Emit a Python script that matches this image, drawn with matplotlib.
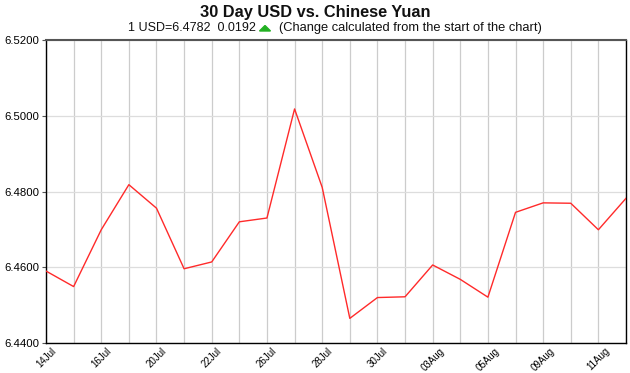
import matplotlib
matplotlib.use("Agg")
import matplotlib.pyplot as plt
from matplotlib.patches import Polygon

plt.rcParams.update({"font.family": "Liberation Sans"})

dates = ["14Jul", "15Jul", "16Jul", "19Jul", "20Jul", "21Jul", "22Jul", "23Jul",
         "26Jul", "27Jul", "28Jul", "29Jul", "30Jul", "02Aug", "03Aug", "04Aug",
         "05Aug", "06Aug", "09Aug", "10Aug", "11Aug", "12Aug"]
rates = [6.4590, 6.4549, 6.4699, 6.4818, 6.4756, 6.4596, 6.4614, 6.4720,
         6.4730, 6.5018, 6.4811, 6.4465, 6.4520, 6.4522, 6.4606, 6.4568,
         6.4521, 6.4745, 6.4770, 6.4769, 6.4699, 6.4782]
yticks = [6.44, 6.46, 6.48, 6.50, 6.52]

W, H = 630, 373
fig = plt.figure(figsize=(6.3, 3.73), dpi=100)
fig.patch.set_facecolor("white")
ax = fig.add_axes([46 / W, 1 - 343 / H, 580 / W, 303 / H])

x = list(range(len(dates)))
ax.plot(x, rates, color="#ff2a2a", lw=1.0, zorder=3)

ax.set_xlim(0, len(dates) - 1)
ax.set_ylim(6.44, 6.52)
ax.set_yticks(yticks)
ax.set_yticklabels([f"{v:.4f}" for v in yticks], fontsize=8.2)
# every day gets a gridline, every other day a label
ax.set_xticks(x)
ax.set_xticklabels([d if i % 2 == 0 else "" for i, d in enumerate(dates)],
                   fontsize=7, rotation=45, ha="center", va="top")
ax.grid(True, axis="x", color="#cccccc", lw=0.9)
ax.grid(True, axis="y", color="#dddddd", lw=0.9)
ax.tick_params(axis="y", length=3, width=0.8, color="#555555", pad=2)
ax.tick_params(axis="x", length=0, pad=2)
for s in ("left", "bottom", "right"):
    ax.spines[s].set_color("black")
    ax.spines[s].set_linewidth(1.0)
ax.spines["top"].set_color("#555555")
ax.spines["top"].set_linewidth(1.5)

fig.text(0.5, 1 - 13 / H, "30 Day USD vs. Chinese Yuan", ha="center", va="center",
         fontsize=11.8, fontweight="bold", color="#111111")
fig.text(256 / W, 1 - 28 / H, "1 USD=6.4782  0.0192", ha="right", va="center",
         fontsize=9, color="#111111")
tri = [(259.5 / W, 1 - 31 / H), (270.5 / W, 1 - 31 / H), (265 / W, 1 - 25.5 / H)]
fig.add_artist(Polygon(tri, closed=True, color="#22b022", transform=fig.transFigure))
fig.text(279 / W, 1 - 28 / H, "(Change calculated from the start of the chart)",
         ha="left", va="center", fontsize=9.3, color="#111111")

fig.savefig("out.png", dpi=100, facecolor="white")
